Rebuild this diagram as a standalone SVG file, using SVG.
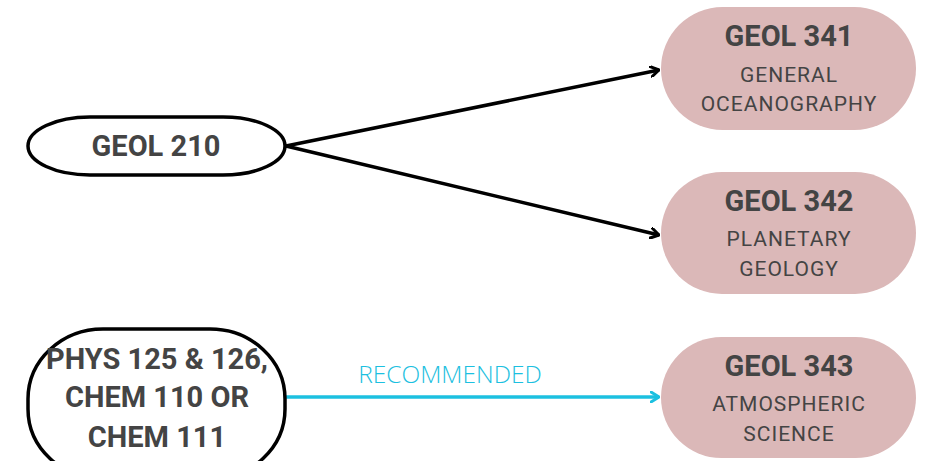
<svg xmlns="http://www.w3.org/2000/svg" width="932" height="461" viewBox="0 0 932 461">
<style>
.src{fill:#fff;stroke:#000;stroke-width:3.5}
.tgt{fill:#dbb8b8;stroke:none}
.t{font-family:Roboto,"Liberation Sans",sans-serif;fill:#444;text-anchor:middle}
.b{font-weight:bold;font-size:29px}
.s{font-size:21px;letter-spacing:1px}
.lbl{font-family:"Open Sans","Liberation Sans",sans-serif;font-weight:300;font-size:24.5px;fill:#1cc0e0;text-anchor:middle}
</style>
<defs>
<marker id="ab" markerWidth="10" markerHeight="12" refX="9" refY="6" orient="auto" markerUnits="userSpaceOnUse">
<path d="M1,1 L9,6 L1,11" fill="none" stroke="#000" stroke-width="3" stroke-linecap="round" stroke-linejoin="round"/>
</marker>
<marker id="ac" markerWidth="10" markerHeight="12" refX="9" refY="6" orient="auto" markerUnits="userSpaceOnUse">
<path d="M1,1 L9,6 L1,11" fill="none" stroke="#1cc0e0" stroke-width="3" stroke-linecap="round" stroke-linejoin="round"/>
</marker>
</defs>
<g id="connectors">
<line x1="286" y1="146" x2="659" y2="70" stroke="#000" stroke-width="3.5" marker-end="url(#ab)"/>
<line x1="286" y1="146" x2="659" y2="235" stroke="#000" stroke-width="3.5" marker-end="url(#ab)"/>
<line x1="286" y1="397" x2="659" y2="397" stroke="#1cc0e0" stroke-width="3.5" marker-end="url(#ac)"/>
<text class="lbl" x="450" y="383">RECOMMENDED</text>
</g>
<g id="geol210">
<rect class="src" x="28" y="117" width="257" height="58" rx="62" ry="29"/>
<text class="t b" x="156" y="156">GEOL 210</text>
</g>
<g id="prereq">
<rect class="src" x="28" y="329" width="257" height="150" rx="75" ry="70"/>
<text class="t b" x="157" y="369">PHYS 125 &amp; 126,</text>
<text class="t b" x="157" y="407">CHEM 110 OR</text>
<text class="t b" x="157" y="447">CHEM 111</text>
</g>
<g id="geol341">
<rect class="tgt" x="661" y="7" width="255" height="123" rx="61.5" ry="61.5"/>
<text class="t b" x="789" y="46">GEOL 341</text>
<text class="t s" x="789" y="82">GENERAL</text>
<text class="t s" x="789" y="111">OCEANOGRAPHY</text>
</g>
<g id="geol342">
<rect class="tgt" x="661" y="172" width="255" height="122" rx="61" ry="61"/>
<text class="t b" x="789" y="211">GEOL 342</text>
<text class="t s" x="789" y="246">PLANETARY</text>
<text class="t s" x="789" y="276">GEOLOGY</text>
</g>
<g id="geol343">
<rect class="tgt" x="661" y="337" width="255" height="121" rx="60.5" ry="60.5"/>
<text class="t b" x="789" y="376">GEOL 343</text>
<text class="t s" x="789" y="411">ATMOSPHERIC</text>
<text class="t s" x="789" y="441">SCIENCE</text>
</g>
</svg>
